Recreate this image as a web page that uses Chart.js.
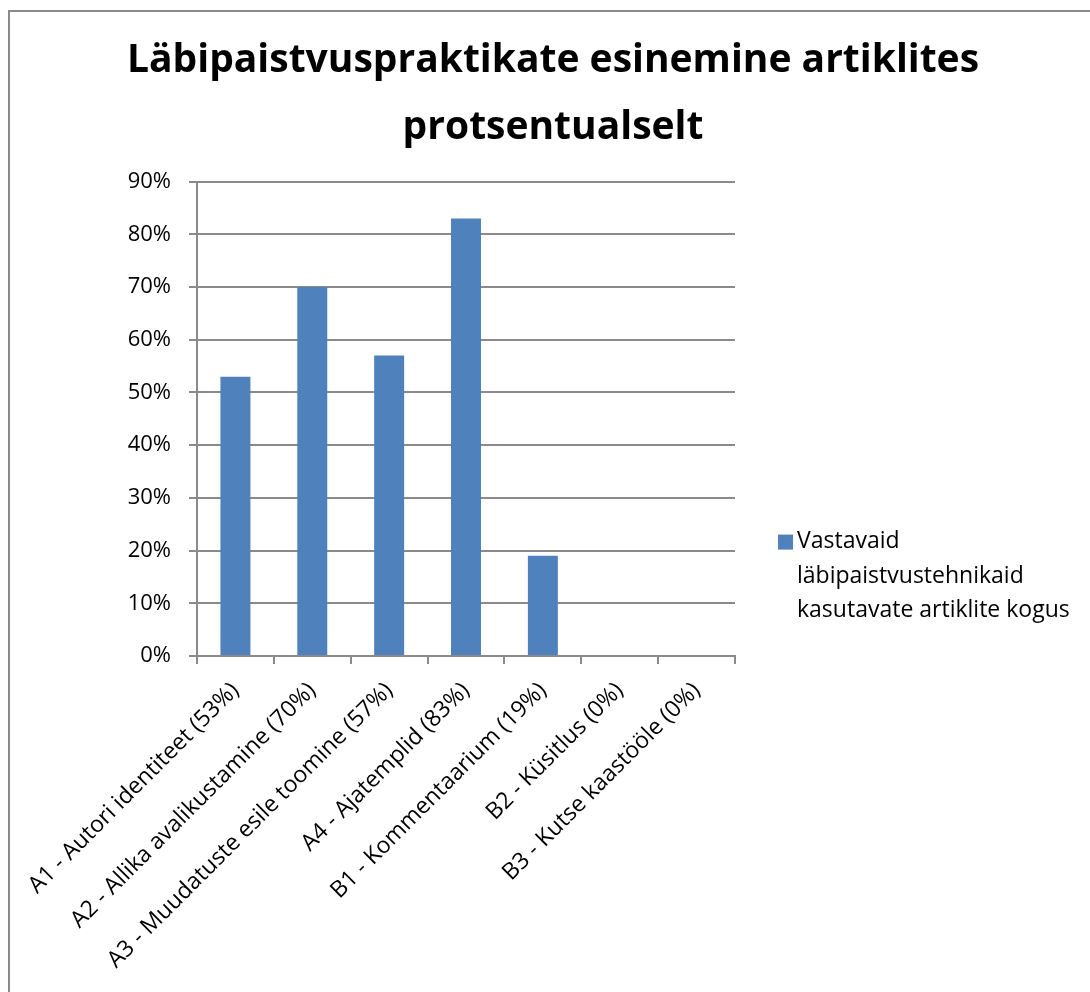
<!DOCTYPE html>
<html>
<head>
<meta charset="utf-8">
<script src="https://cdn.jsdelivr.net/npm/chart.js@4"></script>
<style>
  body { margin: 0; background: #fff; }
  #wrap { position: relative; width: 1090px; height: 992px; overflow: hidden; }
  #frame { position: absolute; left: 8px; top: 10px; width: 1100px; height: 1000px; border-left: 2px solid #8a8a8a; border-top: 2px solid #8a8a8a; box-sizing: border-box; }
  canvas { position: absolute; left: 0; top: 0; }
</style>
</head>
<body>
<div id="wrap">
  <div id="frame"></div>
  <canvas id="grafico" width="1090" height="992"></canvas>
</div>
<script>
// andmed
const kategooriad = [
  'A1 - Autori identiteet (53%)',
  'A2 - Allika avalikustamine (70%)',
  'A3 - Muudatuste esile toomine (57%)',
  'A4 - Ajatemplid (83%)',
  'B1 - Kommentaarium (19%)',
  'B2 - Küsitlus (0%)',
  'B3 - Kutse kaastööle (0%)'
];
const vaartused = [53, 70, 57, 83, 19, 0, 0];
const seeriaNimi = 'Vastavaid läbipaistvustehnikaid kasutavate artiklite kogus';
const pealkiri = ['Läbipaistvuspraktikate esinemine artiklites', 'protsentualselt'];
const yMax = 90;
const ySamm = 10;

const font = '"Open Sans"';
const hall = '#8a8a8a';
const sinine = '#4f81bd';

// legend paremal, teksti murdmisega
const legendPlugin = {
  id: 'paremLegend',
  afterDraw(chart) {
    const ctx = chart.ctx;
    const ds = chart.data.datasets[0];
    const x = chart.chartArea.right + 43;
    const y = chart.chartArea.top + 353;
    ctx.save();
    ctx.fillStyle = ds.backgroundColor;
    ctx.fillRect(x, y, 15, 15);
    ctx.font = '23px ' + font;
    ctx.fillStyle = '#000';
    ctx.textBaseline = 'middle';
    const tx = x + 19;
    const maxW = 290;
    const sonad = ds.label.split(' ');
    const read = [];
    let rida = '';
    sonad.forEach(s => {
      const proov = rida ? rida + ' ' + s : s;
      if (rida && ctx.measureText(proov).width > maxW) {
        read.push(rida);
        rida = s;
      } else {
        rida = proov;
      }
    });
    if (rida) read.push(rida);
    read.forEach((r, i) => ctx.fillText(r, tx, y + 7 + i * 34.5));
    ctx.restore();
  }
};

new Chart(document.getElementById('grafico'), {
  type: 'bar',
  data: {
    labels: kategooriad,
    datasets: [{
      label: seeriaNimi,
      data: vaartused,
      backgroundColor: sinine,
      barPercentage: 0.39,
      categoryPercentage: 1
    }]
  },
  options: {
    responsive: false,
    animation: false,
    layout: { padding: { left: 16, right: 0, top: 0, bottom: 0 } },
    plugins: {
      legend: { display: false },
      tooltip: { enabled: false },
      title: {
        display: true,
        text: pealkiri,
        color: '#000',
        font: { family: font, size: 39, weight: 'bold', lineHeight: 1.7 },
        padding: { top: 28, bottom: 21 }
      }
    },
    scales: {
      x: {
        grid: { display: true, drawOnChartArea: false, offset: true, color: hall, lineWidth: 2, tickLength: 8 },
        border: { color: hall, width: 2 },
        ticks: { color: '#000', font: { family: font, size: 23 }, maxRotation: 45, minRotation: 45, autoSkip: false, padding: 13 },
        afterFit(scale) { scale.height = 336; }
      },
      y: {
        min: 0,
        max: yMax,
        grid: { color: hall, lineWidth: 2, tickLength: 8 },
        border: { color: hall, width: 2 },
        ticks: {
          stepSize: ySamm,
          color: '#000',
          font: { family: font, size: 22 },
          padding: 18,
          callback: v => v + '%'
        },
        afterFit(scale) { scale.width = 181; }
      },
      // tühi telg paremal legendi jaoks
      legendiRuum: {
        position: 'right',
        grid: { display: false },
        border: { display: false },
        ticks: { display: false },
        afterFit(scale) { scale.width = 355; }
      }
    }
  },
  plugins: [legendPlugin]
});
</script>
</body>
</html>
